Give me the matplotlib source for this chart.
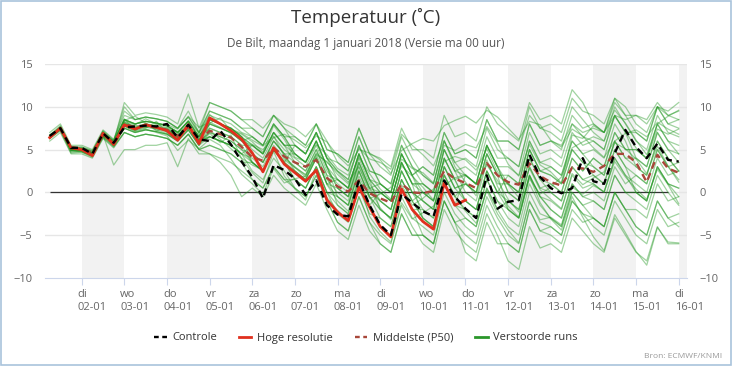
import numpy as np
import pandas as pd
import matplotlib
matplotlib.use("Agg")
import matplotlib.pyplot as plt
import matplotlib.transforms as mtransforms
from matplotlib.lines import Line2D
from matplotlib.patches import Rectangle

plt.rcParams['font.family'] = ['Open Sans', 'DejaVu Sans']

# ---------------- data ----------------
times = pd.date_range("2018-01-01 06:00", periods=60, freq="6h")
tick_days = pd.date_range("2018-01-02", periods=15, freq="D")
day_names = ["di", "wo", "do", "vr", "za", "zo", "ma", "di", "wo", "do",
             "vr", "za", "zo", "ma", "di"]
day_dates = ["02-01", "03-01", "04-01", "05-01", "06-01", "07-01", "08-01",
             "09-01", "10-01", "11-01", "12-01", "13-01", "14-01", "15-01", "16-01"]

hoge_resolutie = [6.4, 7.5, 5.2, 5.0, 4.3, 6.9, 5.6, 7.9, 7.4, 7.9, 7.6, 7.2, 6.1, 7.9,
                  5.7, 8.7, 8.0, 7.2, 6.2, 4.6, 2.4, 5.2, 3.3, 2.3, 1.3, 2.6, -0.9, -2.3,
                  -3.3, 0.6, -1.7, -4.0, -5.2, 0.4, -2.0, -3.4, -4.3, 1.1, -1.5, -0.9]

controle = [6.6, 7.5, 5.2, 5.2, 4.5, 6.9, 5.8, 7.6, 7.7, 7.8, 7.7, 8.0, 6.4, 7.9, 6.2,
            6.0, 7.2, 5.6, 3.6, 1.8, -0.7, 3.2, 2.6, 1.6, -0.3, 1.4, -1.5, -2.6, -2.8,
            1.4, -1.5, -3.8, -5.0, -0.2, -1.2, -2.2, -2.8, 1.4, -0.5, -1.9, -3.0, 2.0,
            -1.9, -1.1, -0.9, 4.4, 1.8, 0.5, -0.1, 0.5, 4.0, 1.3, 1.0, 4.6, 7.3, 5.3,
            4.0, 5.7, 3.8, 3.6]

middelste_p50 = [6.5, 7.4, 5.3, 5.1, 4.6, 6.8, 5.7, 8.0, 7.6, 7.8, 7.6, 7.3, 6.6, 7.6,
                 6.0, 7.2, 6.8, 6.4, 5.3, 4.1, 3.7, 5.2, 4.2, 3.5, 3.0, 3.8, 1.7, 0.7,
                 0.1, 1.4, -0.1, -0.7, -1.2, 1.0, 0.0, -0.1, 0.2, 2.5, 1.6, 1.1, 0.5,
                 3.4, 2.0, 1.2, 0.9, 3.4, 1.9, 1.2, 0.8, 2.9, 2.8, 2.4, 3.1, 4.5, 4.5,
                 3.5, 1.2, 4.4, 2.8, 2.3]

verstoorde_runs = [
    [6.7, 7.6, 5.3, 5.2, 4.8, 7.0, 6.0, 8.5, 8.0, 8.3, 8.1, 7.8, 7.0, 8.3, 6.5,
     8.5, 8.0, 7.5, 6.5, 5.5, 4.5, 7.0, 5.5, 5.5, 4.5, 7.0, 4.0, 2.5, 1.5, 5.5, 2.5,
     2.0, 1.0, 5.5, 3.0, 2.0, 1.0, 6.0, 3.5, 4.0, 3.0, 7.5, 5.0, 4.0, 3.0, 8.0, 5.5,
     6.0, 5.5, 8.0, 7.0, 7.5, 7.0, 9.0, 8.5, 9.0, 8.5, 10.5, 9.0, 8.5],
    [6.3, 7.3, 4.8, 4.8, 4.3, 6.5, 5.5, 7.5, 7.0, 7.3, 7.1, 6.8, 6.0, 7.3, 5.5,
     6.5, 6.0, 5.5, 4.5, 3.5, 2.5, 5.0, 3.5, 1.5, 0.5, 3.0, 0.0, -1.5, -2.5, 1.5, -1.5,
     -4.0, -5.0, -0.5, -3.0, -4.0, -5.0, 0.0, -2.5, -4.0, -5.0, -0.5, -3.0, -5.0, -6.0, -1.0, -3.5,
     -4.0, -5.0, -1.0, -2.5, -4.0, -5.0, -1.0, -3.0, -5.0, -6.0, -2.0, -4.0, -3.5],
    [7.0, 8.0, 5.5, 5.5, 5.0, 7.3, 6.2, 9.0, 8.5, 8.8, 8.6, 8.3, 7.5, 8.8, 7.0,
     9.5, 9.0, 8.5, 7.5, 7.5, 6.5, 9.0, 7.5, 6.5, 5.5, 8.0, 5.0, 4.5, 3.5, 7.5, 4.5,
     4.0, 3.0, 7.5, 5.0, 5.0, 4.0, 9.0, 6.5, 7.0, 6.0, 10.0, 8.0, 7.0, 6.0, 10.5, 8.5,
     9.0, 8.0, 12.0, 10.5, 8.0, 7.0, 10.5, 9.0, 7.0, 6.0, 10.0, 8.0, 7.5],
    [6.0, 7.0, 4.5, 4.5, 4.0, 6.3, 5.2, 7.0, 6.5, 6.8, 6.6, 6.3, 5.5, 6.8, 5.0,
     5.5, 5.0, 4.5, 3.5, 1.5, 0.5, 3.0, 1.5, 0.5, -0.5, 2.0, -1.0, -3.5, -4.5, -0.5, -3.5,
     -5.0, -6.0, -1.5, -4.0, -6.0, -7.0, -2.0, -4.5, -6.0, -7.0, -2.5, -5.0, -8.0, -9.0, -4.0, -6.5,
     -6.0, -7.0, -3.0, -4.5, -6.0, -7.0, -3.0, -5.0, -7.0, -8.0, -4.0, -6.0, -6.0],
    [6.6, 7.4, 5.1, 4.9, 4.4, 6.9, 5.8, 8.2, 7.5, 7.9, 7.5, 7.4, 6.6, 7.9, 6.2,
     8.0, 7.5, 7.0, 6.0, 5.5, 4.5, 7.0, 5.5, 4.5, 3.5, 6.0, 3.0, 1.5, 0.5, 4.5, 1.5,
     0.0, -1.0, 3.5, 1.0, 1.0, 0.0, 5.0, 2.5, 2.0, 1.0, 5.5, 3.0, 1.0, 0.0, 5.0, 2.5,
     2.0, 1.0, 5.0, 3.5, 2.0, 1.0, 5.0, 3.0, 2.0, 1.0, 5.0, 3.0, 3.5],
    [6.4, 7.6, 4.9, 5.1, 4.6, 6.7, 5.6, 7.8, 7.4, 7.7, 7.7, 7.2, 6.4, 7.7, 5.9,
     7.0, 6.5, 6.0, 5.0, 3.5, 2.5, 5.0, 3.5, 2.5, 1.5, 4.0, 1.0, -0.5, -1.5, 2.5, -0.5,
     -2.0, -3.0, 1.5, -1.0, -3.0, -4.0, 1.0, -1.5, -2.0, -3.0, 1.5, -1.0, -2.0, -3.0, 2.0, -0.5,
     -2.0, -3.0, 1.0, -0.5, -1.0, -2.0, 2.0, 0.0, 0.0, -1.0, 3.0, 1.0, 0.5],
    [6.5, 7.7, 5.2, 5.0, 4.7, 7.1, 6.0, 9.5, 8.5, 8.8, 8.6, 8.3, 7.5, 9.5, 7.0,
     9.5, 9.0, 8.5, 7.5, 6.5, 5.5, 8.0, 6.5, 4.5, 3.5, 6.0, 3.0, 0.5, -0.5, 3.5, 0.5,
     -1.0, -2.0, 2.5, 0.0, -2.0, -3.0, 2.0, -0.5, -2.0, -3.0, 1.5, -1.0, -3.0, -4.0, 1.0, -1.5,
     -3.0, -4.0, 0.0, -1.5, -3.0, -4.0, 0.0, -2.0, -4.0, -5.0, -1.0, -3.0, -2.5],
    [6.4, 7.3, 4.7, 4.8, 4.2, 6.5, 5.4, 7.0, 6.5, 6.8, 6.6, 6.3, 5.5, 6.8, 5.0,
     5.5, 5.0, 4.5, 3.5, 3.5, 2.5, 5.0, 3.5, 2.5, 1.5, 4.0, 1.0, 0.5, -0.5, 3.5, 0.5,
     0.0, -1.0, 3.5, 1.0, 1.0, 0.0, 5.0, 2.5, 3.0, 2.0, 6.5, 4.0, 4.0, 3.0, 8.0, 5.5,
     6.0, 5.0, 9.0, 7.5, 8.0, 7.0, 11.0, 9.0, 9.0, 8.0, 10.0, 9.5, 10.5],
    [6.6, 7.5, 5.0, 5.1, 4.5, 6.8, 5.9, 8.5, 8.0, 8.3, 8.1, 7.8, 7.0, 8.3, 6.5,
     9.0, 8.5, 8.0, 7.0, 6.5, 5.5, 8.0, 6.5, 6.5, 5.5, 8.0, 5.0, 4.5, 3.5, 7.5, 4.5,
     3.0, 2.0, 6.5, 4.0, 2.0, 1.0, 6.0, 3.5, 2.0, 1.0, 5.5, 3.0, 0.0, -1.0, 4.0, 1.5,
     1.0, 0.0, 4.0, 2.5, 4.0, 3.0, 7.0, 5.0, 5.0, 4.0, 8.0, 6.0, 4.5],
    [6.5, 7.5, 5.0, 5.0, 4.4, 6.6, 5.7, 8.0, 7.5, 7.8, 7.6, 7.3, 6.5, 7.8, 6.0,
     6.5, 6.0, 5.5, 4.5, 2.5, 1.5, 4.0, 2.5, 0.5, -0.5, 2.0, -1.0, -3.5, -4.5, -0.5, -3.5,
     -6.0, -7.0, -2.5, -5.0, -5.0, -6.0, -1.0, -3.5, -3.0, -4.0, 0.5, -2.0, -1.0, -2.0, 3.0, 0.5,
     1.0, 0.0, 4.0, 2.5, 4.0, 3.0, 7.0, 5.0, 5.0, 4.0, 8.0, 6.0, 5.5],
    [6.6, 7.6, 5.1, 5.2, 4.6, 7.0, 5.9, 10.5, 9.0, 9.3, 9.1, 8.8, 8.0, 11.5, 7.5,
     10.5, 10.0, 9.5, 8.5, 7.5, 6.5, 9.0, 7.5, 5.5, 4.5, 7.0, 4.0, 1.5, 0.5, 4.5, 1.5,
     0.0, -1.0, 3.5, 1.0, 0.0, -1.0, 4.0, 1.5, 2.0, 1.0, 5.5, 3.0, 3.0, 2.0, 7.0, 4.5,
     5.0, 4.0, 8.0, 6.5, 6.0, 5.0, 9.0, 7.0, 7.0, 6.0, 10.0, 8.0, 8.5],
    [6.4, 7.4, 4.9, 4.9, 4.4, 6.7, 3.2, 5.0, 5.0, 5.5, 5.5, 5.8, 3.0, 6.3, 4.5,
     4.5, 4.0, 3.5, 2.5, 1.5, 0.5, 3.0, 1.5, 1.5, 0.5, 3.0, 0.0, -0.5, -1.5, 2.5, -0.5,
     -2.0, -3.0, 1.5, -1.0, -3.0, -4.0, 1.0, -1.5, -3.0, -4.0, 0.5, -2.0, -4.0, -5.0, 0.0, -2.5,
     -3.0, -4.0, 0.0, -1.5, -1.0, -2.0, 2.0, 0.0, -1.0, -2.0, 2.0, 0.0, -1.5],
    [6.5, 7.4, 5.0, 4.9, 4.5, 6.9, 5.7, 8.1, 7.6, 7.9, 7.7, 7.4, 6.6, 7.9, 6.1,
     8.0, 7.5, 7.0, 6.0, 4.5, 3.5, 6.0, 4.5, 2.5, 1.5, 4.0, 1.0, 1.5, 0.5, 4.5, 1.5,
     1.0, 0.0, 4.5, 2.0, 3.0, 2.0, 7.0, 4.5, 5.0, 4.0, 8.5, 6.0, 6.0, 5.0, 10.0, 7.5,
     7.0, 6.0, 10.0, 8.5, 7.0, 6.0, 10.0, 8.0, 6.0, 5.0, 9.0, 7.0, 6.5],
    [6.4, 7.5, 5.0, 5.0, 4.6, 6.8, 5.6, 7.9, 7.4, 7.7, 7.5, 7.2, 6.4, 7.7, 5.9,
     7.0, 6.5, 6.0, 5.0, 4.5, 3.5, 6.0, 4.5, 4.5, 3.5, 6.0, 3.0, -0.5, -1.5, 2.5, -0.5,
     -3.0, -4.0, 0.5, -2.0, -5.0, -6.0, -1.0, -3.5, -5.0, -6.0, -1.5, -4.0, -6.0, -7.0, -2.0, -4.5,
     -5.0, -6.0, -2.0, -3.5, -3.0, -4.0, 0.0, -2.0, -2.0, -3.0, 1.0, -1.0, -0.5],
    [6.6, 7.5, 5.1, 5.0, 4.5, 6.9, 5.8, 8.5, 8.0, 8.3, 8.1, 7.8, 7.0, 8.3, 6.5,
     7.5, 7.0, 6.5, 5.5, 5.5, 4.5, 7.0, 5.5, 5.5, 4.5, 7.0, 4.0, 3.5, 2.5, 6.5, 3.5,
     1.0, 0.0, 4.5, 2.0, 0.0, -1.0, 4.0, 1.5, -1.0, -2.0, 2.5, 0.0, -2.0, -3.0, 2.0, -0.5,
     -1.0, -2.0, 2.0, 0.5, 1.0, 0.0, 4.0, 2.0, 1.0, 0.0, 4.0, 2.0, 2.5],
    [6.4, 7.4, 5.0, 5.0, 4.4, 6.7, 5.6, 7.5, 7.0, 7.3, 7.1, 6.8, 6.0, 7.3, 5.5,
     7.5, 7.0, 6.5, 5.5, 3.5, 2.5, 5.0, 3.5, 1.5, 0.5, 3.0, 0.0, -2.5, -3.5, 0.5, -2.5,
     -3.0, -4.0, 0.5, -2.0, -2.0, -3.0, 2.0, -0.5, 1.0, 0.0, 4.5, 2.0, 2.0, 1.0, 6.0, 3.5,
     3.0, 2.0, 6.0, 4.5, 3.0, 2.0, 6.0, 4.0, 3.0, 2.0, 6.0, 4.0, 2.5],
    [6.5, 7.5, 5.0, 5.0, 4.5, 6.8, 5.7, 8.2, 7.7, 8.0, 7.8, 7.5, 6.7, 8.0, 6.2,
     8.5, 8.0, 7.5, 6.5, 5.0, 4.0, 6.5, 5.0, 4.0, 3.0, 5.5, 2.5, 1.0, 0.0, 4.0, 1.0,
     -1.0, -2.0, 2.5, 0.0, -1.0, -2.0, 3.0, 0.5, 1.0, 0.0, 4.5, 2.0, 1.0, 0.0, 5.0, 2.5,
     2.0, 1.0, 5.0, 3.5, 3.0, 2.0, 6.0, 4.0, 4.0, 3.0, 7.0, 5.0, 4.5],
    [6.5, 7.5, 5.0, 5.0, 4.5, 6.8, 5.7, 7.8, 7.3, 7.6, 7.4, 7.1, 6.3, 7.6, 5.8,
     6.5, 6.0, 5.5, 4.5, 4.0, 3.0, 5.5, 4.0, 3.0, 2.0, 4.5, 1.5, 0.0, -1.0, 3.0, 0.0,
     -1.0, -2.0, 2.5, 0.0, -1.0, -2.0, 3.0, 0.5, -1.0, -2.0, 2.5, 0.0, -1.0, -2.0, 3.0, 0.5,
     0.0, -1.0, 3.0, 1.5, 1.0, 0.0, 4.0, 2.0, 0.0, -1.0, 3.0, 1.0, 0.5],
    [6.7, 7.8, 5.3, 5.3, 4.8, 7.2, 6.1, 10.0, 8.5, 8.8, 8.6, 8.3, 7.5, 8.8, 7.0,
     10.5, 10.0, 9.5, 8.5, 8.5, 7.5, 9.0, 8.0, 7.5, 6.5, 8.0, 6.0, 3.5, 2.5, 6.5, 3.5,
     1.0, 0.0, 4.5, 2.0, 3.0, 2.0, 7.0, 4.5, 5.0, 4.0, 8.5, 6.0, 6.0, 5.0, 9.0, 7.5,
     8.0, 7.0, 11.0, 9.5, 9.0, 8.0, 11.0, 10.0, 8.0, 7.0, 10.0, 9.0, 9.5],
    [6.3, 7.2, 4.6, 4.7, 4.1, 6.4, 5.3, 7.0, 6.5, 6.8, 6.6, 6.3, 5.5, 6.8, 5.0,
     4.5, 3.5, 2.0, -0.5, 0.5, -0.5, 2.0, 0.5, -0.5, -1.5, 1.0, -2.0, -4.5, -5.5, -1.5, -4.5,
     -6.0, -7.0, -2.5, -5.0, -5.0, -6.0, -1.0, -3.5, -7.0, -8.0, -3.5, -6.0, -6.0, -7.0, -2.0, -4.5,
     -4.0, -5.0, -1.0, -2.5, -3.0, -4.0, 0.0, -2.0, -4.0, -5.0, -1.0, -3.0, -4.0],
    [6.5, 7.5, 5.0, 5.1, 4.5, 6.8, 5.8, 8.5, 8.0, 8.3, 8.1, 7.8, 7.0, 8.3, 6.5,
     8.5, 8.0, 7.5, 6.5, 4.5, 3.5, 6.0, 4.5, 3.5, 2.5, 5.0, 2.0, 1.5, 0.5, 4.5, 1.5,
     -2.0, -3.0, 1.5, -1.0, 0.0, -1.0, 4.0, 1.5, -1.0, -2.0, 2.5, 0.0, 2.0, 1.0, 6.0, 3.5,
     4.0, 3.0, 7.0, 5.5, 6.0, 5.0, 9.0, 7.0, 4.0, 3.0, 7.0, 5.0, 3.5],
    [6.5, 7.5, 5.0, 4.9, 4.4, 6.8, 5.7, 7.5, 7.0, 7.3, 7.1, 6.8, 6.0, 7.3, 5.5,
     8.0, 7.5, 7.0, 6.0, 6.5, 5.5, 8.0, 6.5, 4.5, 3.5, 6.0, 3.0, 0.5, -0.5, 3.5, 0.5,
     1.0, 0.0, 4.5, 2.0, -1.0, -2.0, 3.0, 0.5, 1.0, 0.0, 4.5, 2.0, -2.0, -3.0, 2.0, -0.5,
     -2.0, -3.0, 1.0, -0.5, 0.0, -1.0, 3.0, 1.0, 2.0, 1.0, 5.0, 3.0, 1.5],
    [6.5, 7.5, 5.0, 5.0, 4.5, 6.8, 5.7, 8.0, 7.5, 7.8, 7.6, 7.3, 6.5, 7.8, 6.0,
     6.5, 6.0, 5.5, 4.5, 5.5, 4.5, 7.0, 5.5, 3.5, 2.5, 5.0, 2.0, -1.5, -2.5, 1.5, -1.5,
     0.0, -1.0, 3.5, 1.0, -3.0, -4.0, 1.0, -1.5, 2.0, 1.0, 5.5, 3.0, 0.0, -1.0, 4.0, 1.5,
     0.0, -1.0, 3.0, 1.5, 2.0, 1.0, 5.0, 3.0, 0.0, -1.0, 3.0, 1.0, -0.5],
    [6.5, 7.5, 5.0, 5.0, 4.5, 6.8, 5.7, 8.0, 7.5, 7.8, 7.6, 7.3, 6.5, 7.8, 6.0,
     8.5, 8.0, 7.5, 6.5, 3.5, 2.5, 5.0, 3.5, 5.5, 4.5, 7.0, 4.0, 2.5, 1.5, 5.5, 2.5,
     2.0, 1.0, 5.5, 3.0, 1.0, 0.0, 5.0, 2.5, 0.0, -1.0, 3.5, 1.0, 1.0, 0.0, 5.0, 2.5,
     3.0, 2.0, 6.0, 4.5, 5.0, 4.0, 8.0, 6.0, 3.0, 2.0, 6.0, 4.0, 2.5],
    [6.6, 7.4, 5.2, 5.3, 4.9, 6.6, 6.1, 8.3, 7.9, 8.6, 8.0, 7.9, 7.4, 8.9, 7.6,
     8.2, 7.6, 6.9, 6.4, 5.6, 5.0, 6.4, 6.8, 6.1, 5.2, 6.6, 5.9, 4.3, 3.1, 5.0, 4.6,
     3.8, 2.2, 4.9, 5.7, 6.3, 6.0, 7.8, 8.4, 8.9, 8.1, 9.6, 8.8, 7.5, 6.2, 8.3, 7.9,
     6.1, 5.3, 7.4, 6.6, 5.2, 4.1, 6.0, 6.9, 7.3, 6.5, 8.2, 7.4, 6.8],
    [6.4, 7.6, 4.9, 4.7, 4.3, 7.1, 5.4, 7.7, 7.2, 8.1, 7.3, 6.9, 6.2, 8.1, 5.6,
     6.9, 5.8, 6.7, 3.9, 2.3, 1.1, 4.8, 1.9, 0.4, -0.9, 2.7, -0.6, -2.1, -3.4, 1.3, -2.8,
     -4.6, -5.8, -1.2, -3.1, -2.4, -1.6, 0.8, 1.7, 2.1, 0.9, 3.2, 1.4, -0.8, -2.3, 1.9, -1.2,
     -3.1, -4.4, -0.5, -2.9, -5.2, -6.8, -2.6, -4.7, -6.9, -8.5, -4.1, -5.8, -5.9],
    [6.5, 7.3, 5.4, 5.1, 4.4, 6.6, 5.9, 8.6, 7.2, 7.5, 8.3, 7.0, 6.8, 7.4, 6.6,
     8.1, 8.7, 7.2, 6.8, 5.9, 4.7, 7.8, 6.2, 4.1, 3.6, 5.6, 4.4, 2.8, 2.0, 5.2, 3.9,
     3.5, 2.7, 6.8, 5.5, 4.4, 3.1, 6.1, 3.0, 1.2, -0.4, 3.8, 0.7, -1.6, -2.9, 1.6, -0.2,
     0.6, 1.8, 5.2, 5.9, 6.5, 6.0, 8.9, 7.1, 5.2, 3.9, 7.4, 6.8, 7.4],
    [6.6, 7.6, 5.0, 4.8, 4.2, 6.9, 5.5, 7.9, 7.8, 7.6, 7.9, 7.7, 7.1, 7.5, 6.8,
     7.3, 6.2, 5.1, 4.0, 3.2, 2.6, 4.9, 3.8, 2.9, 2.1, 4.6, 3.5, 2.4, 1.2, 3.0, 0.4,
     -1.8, -3.2, 0.9, -1.5, -0.7, 0.4, 3.6, 4.2, 3.8, 2.6, 5.1, 2.4, 0.9, -0.6, 2.8, 0.3,
     -0.8, -1.9, 2.2, 0.9, 1.7, 2.4, 5.8, 5.1, 3.9, 2.2, 5.4, 3.1, 1.2],
    [6.5, 7.5, 5.1, 5.0, 4.7, 7.0, 5.7, 8.4, 8.9, 8.1, 7.2, 7.6, 6.9, 8.4, 6.9,
     9.1, 8.0, 7.4, 6.9, 6.1, 5.4, 6.6, 4.2, 2.9, 1.8, 4.2, 0.9, -1.0, -2.2, 1.9, -0.7,
     -0.2, 0.6, 3.9, 2.8, 2.3, 1.1, 5.5, 4.9, 5.6, 5.2, 7.7, 5.8, 3.3, 1.9, 5.6, 3.2,
     2.4, 1.1, 6.7, 6.3, 7.8, 7.0, 9.6, 8.1, 6.1, 4.4, 8.0, 8.9, 9.6],
    [6.4, 7.4, 5.2, 5.1, 4.3, 6.7, 5.8, 7.8, 7.1, 7.4, 7.0, 6.6, 4.9, 6.1, 5.1,
     6.2, 5.5, 3.9, 2.1, 1.0, -0.2, 2.8, 1.1, 1.6, 1.9, 4.4, 3.6, 2.1, 1.0, 4.1, 2.2,
     0.4, -0.8, 3.1, 1.9, 0.6, -0.9, 2.1, -0.4, -2.2, -3.6, 0.2, -2.5, -4.4, -5.9, -1.1, -3.2,
     -2.9, -3.8, 0.6, -0.2, 0.8, 0.1, 3.6, 1.8, 0.4, -0.8, 2.7, 0.9, -1.3],
]

# ---------------- figure ----------------
fig = plt.figure(figsize=(7.32, 3.66), dpi=100)
ax = fig.add_axes([45 / 732, 1 - 278 / 366, 642 / 732, 214 / 366])

x_left = pd.Timestamp("2018-01-01 03:20")
x_right = pd.Timestamp("2018-01-16 04:40")

# alternating grey day bands
for k in range(0, len(tick_days), 2):
    end = tick_days[k] + pd.Timedelta(days=1)
    ax.axvspan(tick_days[k], min(end, x_right), color="#f2f2f2", lw=0, zorder=0)

for yv in [-5, 0, 5, 10, 15]:
    ax.axhline(yv, color="#e6e6e6", lw=1, zorder=1)
ax.hlines(0, times[0], pd.Timestamp("2018-01-15 18:00"), color="#333333", lw=0.9, zorder=2)

for run in verstoorde_runs:
    ax.plot(times, run, color="#1e961e", alpha=0.42, lw=0.9, zorder=3)

ax.plot(times, middelste_p50, color="#a8473a", lw=1.7, dashes=(3, 2), zorder=4)
ax.plot(times[:len(hoge_resolutie)], hoge_resolutie, color="#e0301e", lw=2.0, zorder=5)
ax.plot(times, controle, color="black", lw=1.7, dashes=(3, 2), zorder=6)

ax.set_xlim(x_left, x_right)
ax.set_ylim(-10, 15)
ax.set_yticks([-10, -5, 0, 5, 10, 15])
ax.tick_params(axis="y", length=0, labelsize=8, labelcolor="#666666",
               labelleft=True, labelright=True, pad=9)
for s in ["top", "left", "right"]:
    ax.spines[s].set_visible(False)
ax.spines["bottom"].set_color("#ccd6eb")

ax.set_xticks(tick_days)
ax.set_xticklabels([f"{n}\n{d}" for n, d in zip(day_names, day_dates)])
ax.tick_params(axis="x", length=5, color="#ccd6eb", labelsize=8,
               labelcolor="#666666", pad=3)
shift = mtransforms.ScaledTranslation(-4 / 100, 0, fig.dpi_scale_trans)
for lab in ax.get_xticklabels():
    lab.set_ha("left")
    lab.set_multialignment("left")
    lab.set_transform(lab.get_transform() + shift)

fig.text(0.5, 1 - 17 / 366, "Temperatuur (˚C)", ha="center", va="center",
         fontsize=13.5, color="#333333")
fig.text(0.5, 1 - 44 / 366, "De Bilt, maandag 1 januari 2018 (Versie ma 00 uur)",
         ha="center", va="center", fontsize=8.5, color="#555555")
fig.text(0.986, 1 - 356 / 366, "Bron: ECMWF/KNMI", ha="right", va="center",
         fontsize=6, color="#999999")

handles = [
    Line2D([], [], color="black", lw=1.7, dashes=(2, 1.5)),
    Line2D([], [], color="#e0301e", lw=2.0),
    Line2D([], [], color="#a8473a", lw=1.7, dashes=(2, 1.5)),
    Line2D([], [], color="#2a962a", lw=2.0),
]
fig.legend(handles, ["Controle", "Hoge resolutie", "Middelste (P50)", "Verstoorde runs"],
           loc="center", bbox_to_anchor=(0.5, 1 - 338 / 366), ncol=4, frameon=False,
           fontsize=8, handlelength=1.1, handletextpad=0.5, columnspacing=2.0,
           labelcolor="#333333")

fig.patches.append(Rectangle((0.001, 0.002), 0.997, 0.995, transform=fig.transFigure,
                             fill=False, edgecolor="#a9c3dc", lw=1.2))

fig.savefig("out.png", dpi=100)
